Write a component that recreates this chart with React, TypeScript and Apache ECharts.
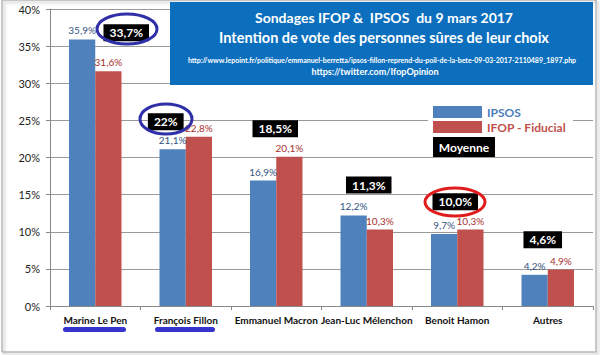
import React, { useEffect, useRef } from "react";
import * as echarts from "echarts";

const categories = ["Marine Le Pen", "François Fillon", "Emmanuel Macron", "Jean-Luc Mélenchon", "Benoit Hamon", "Autres"];
const ipsos = [35.9, 21.1, 16.9, 12.2, 9.7, 4.2];
const ifop = [31.6, 22.8, 20.1, 10.3, 10.3, 4.9];
const averages = [33.7, 22, 18.5, 11.3, 10.0, 4.6];
const averageLabels = ["33,7%", "22%", "18,5%", "11,3%", "10,0%", "4,6%"];
const yTicks = { min: 0, max: 40, interval: 5 };

// label placement offsets for the "Moyenne" boxes (layout only)
const avgOffsets: [number, number][] = [[31, -23], [-20, -21], [-1, -40], [2, -37], [-2, -30], [-5, -32]];

const FONT = "Lato, 'Open Sans', sans-serif";
const BLUE = "#4F81BD";
const RED = "#C0504D";

const fmt = (v: number) => v.toFixed(1).replace(".", ",") + "%";

export default function App() {
  const ref = useRef<HTMLDivElement>(null);
  useEffect(() => {
    if (!ref.current) return;
    const chart = echarts.init(ref.current, null, { renderer: "svg" });
    chart.setOption({
      animation: false,
      backgroundColor: "#fff",
      textStyle: { fontFamily: FONT },
      grid: { left: 50, right: 7, top: 9, bottom: 49 },
      legend: {
        orient: "vertical",
        left: 433,
        top: 106,
        itemWidth: 49,
        itemHeight: 12,
        itemGap: 3,
        padding: 0,
        icon: "rect",
        data: [
          { name: "IPSOS", textStyle: { color: "#4a7ebb", fontWeight: "bold", fontSize: 12, fontFamily: FONT } },
          { name: "IFOP - Fiducial", textStyle: { color: RED, fontWeight: "bold", fontSize: 12, fontFamily: FONT } },
        ],
      },
      xAxis: {
        type: "category",
        data: categories,
        axisLine: { lineStyle: { color: "#888" } },
        axisTick: { show: true, length: 4, lineStyle: { color: "#888" } },
        axisLabel: { interval: 0, color: "#111", fontWeight: "bold", fontSize: 10, margin: 9, fontFamily: FONT },
      },
      yAxis: {
        type: "value",
        min: yTicks.min,
        max: yTicks.max,
        interval: yTicks.interval,
        axisLine: { show: true, lineStyle: { color: "#888" } },
        axisTick: { show: true, length: 4, lineStyle: { color: "#888" } },
        splitLine: { lineStyle: { color: "#999" } },
        axisLabel: { formatter: "{value}%", color: "#222", fontSize: 11, margin: 10, fontFamily: FONT },
      },
      series: [
        {
          name: "IPSOS",
          type: "bar",
          data: ipsos,
          barGap: "0%",
          barCategoryGap: "42%",
          itemStyle: { color: BLUE },
          label: { show: true, position: "top", distance: 4, formatter: (p: any) => fmt(p.value), color: "#34547e", fontSize: 10, fontFamily: FONT },
        },
        {
          name: "IFOP - Fiducial",
          type: "bar",
          data: ifop,
          itemStyle: { color: RED },
          label: { show: true, position: "top", distance: 4, formatter: (p: any) => fmt(p.value), color: "#a8302e", fontSize: 10, fontFamily: FONT },
        },
        {
          name: "Moyenne",
          type: "scatter",
          symbolSize: 0,
          z: 6,
          itemStyle: { opacity: 1, color: "#000" },
          data: averages.map((v, i) => ({ value: [i, v], label: { offset: avgOffsets[i] } })),
          label: {
            show: true,
            position: "inside",
            formatter: (p: any) => averageLabels[p.dataIndex],
            color: "#fff",
            opacity: 1,
            backgroundColor: "#000",
            fontWeight: "bold",
            fontSize: 12,
            padding: [3, 6, 2, 6],
            fontFamily: FONT,
          },
        },
      ],
      graphic: [
        { type: "rect", z: 0, silent: true, shape: { x: 2, y: 0, width: 594, height: 352 }, style: { fill: "none", stroke: "#999", lineWidth: 1, shadowBlur: 3, shadowOffsetX: 2, shadowOffsetY: 2, shadowColor: "rgba(0,0,0,0.35)" } },
        { type: "rect", z: 1, silent: true, shape: { x: 428, y: 103, width: 145, height: 32 }, style: { fill: "#fff" } },
        { type: "rect", z: 8, shape: { x: 170, y: 2, width: 423, height: 83 }, style: { fill: "#0b6fbe" } },
        { type: "text", z: 9, x: 384, y: 17, style: { text: "Sondages IFOP &  IPSOS  du 9 mars 2017", fill: "#fff", font: `bold 14px ${FONT}`, align: "center", verticalAlign: "middle" } },
        { type: "text", z: 9, x: 384, y: 37, style: { text: "Intention de vote des personnes sûres de leur choix", fill: "#fff", font: `bold 14.5px ${FONT}`, align: "center", verticalAlign: "middle" } },
        { type: "text", z: 9, x: 382, y: 60, style: { text: "http://www.lepoint.fr/politique/emmanuel-berretta/ipsos-fillon-reprend-du-poil-de-la-bete-09-03-2017-2110489_1897.php", fill: "#fff", font: `bold 7px ${FONT}`, align: "center", verticalAlign: "middle" } },
        { type: "text", z: 9, x: 375, y: 71, style: { text: "https://twitter.com/IfopOpinion", fill: "#fff", font: `bold 9px ${FONT}`, align: "center", verticalAlign: "middle" } },
        { type: "rect", z: 9, shape: { x: 433, y: 137, width: 62, height: 20 }, style: { fill: "#000" } },
        { type: "text", z: 10, x: 464, y: 147, style: { text: "Moyenne", fill: "#fff", font: `bold 12px ${FONT}`, align: "center", verticalAlign: "middle" } },
        { type: "ellipse", z: 10, shape: { cx: 127, cy: 29, rx: 30, ry: 15 }, style: { fill: "none", stroke: "#2f2fa8", lineWidth: 3 } },
        { type: "ellipse", z: 10, shape: { cx: 166, cy: 119, rx: 26, ry: 15 }, style: { fill: "none", stroke: "#2f2fa8", lineWidth: 3 } },
        { type: "ellipse", z: 10, shape: { cx: 455, cy: 202, rx: 30, ry: 14 }, style: { fill: "none", stroke: "#e01c1c", lineWidth: 3 } },
        { type: "rect", z: 10, shape: { x: 63, y: 327, width: 63, height: 5, r: 2.5 }, style: { fill: "#3535cc" } },
        { type: "rect", z: 10, shape: { x: 155, y: 327, width: 60, height: 5, r: 2.5 }, style: { fill: "#3535cc" } },
      ],
    });
    return () => chart.dispose();
  }, []);
  return <div ref={ref} style={{ position: "fixed", left: 0, top: 0, width: 600, height: 355 }} />;
}
